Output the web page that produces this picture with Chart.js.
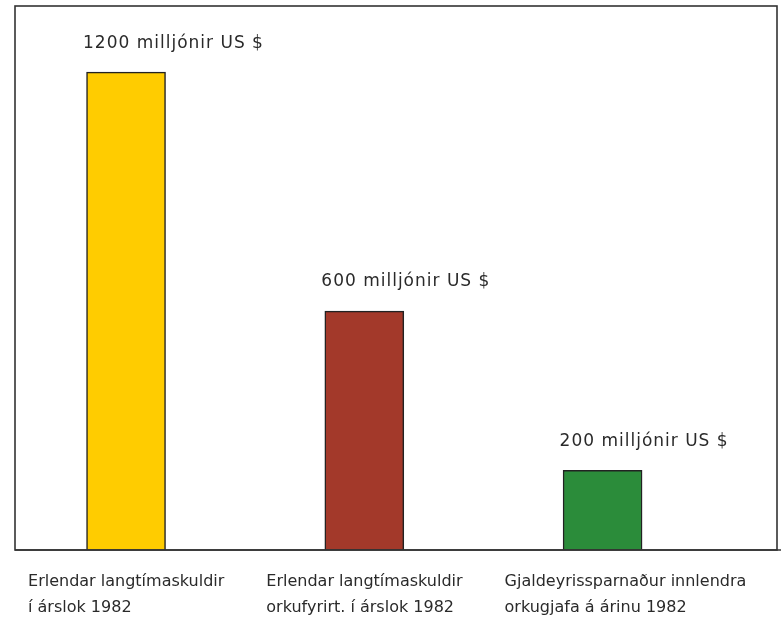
<!DOCTYPE html>
<html>
<head>
<meta charset="utf-8">
<script src="https://cdn.jsdelivr.net/npm/chart.js@4"></script>
<style>
  html, body { margin: 0; padding: 0; background: #fff; }
  #wrap { width: 781px; height: 618px; position: relative; }
</style>
</head>
<body>
<div id="wrap"><canvas id="chart"></canvas></div>
<script>
'use strict';

// Data
const categories = [
    ['Erlendar langtímaskuldir', 'í árslok 1982'],
    ['Erlendar langtímaskuldir', 'orkufyrirt. í árslok 1982'],
    ['Gjaldeyrissparnaður innlendra', 'orkugjafa á árinu 1982']
];
const values = [1200, 600, 200];
const valueLabels = ['1200 milljónir US $', '600 milljónir US $', '200 milljónir US $'];
const barColors = ['#FFCC00', '#A3392A', '#2B8C3A'];

const ink = '#2a2a2a';
const font = '"DejaVu Sans", sans-serif';

// frame around the plot area plus the text labels
const framePlugin = {
    id: 'frame',
    afterDatasetsDraw(chart) {
        const { ctx, chartArea: a } = chart;
        ctx.save();
        ctx.strokeStyle = '#333';
        ctx.lineWidth = 1.6;
        ctx.strokeRect(a.left, a.top, a.right - a.left, a.bottom - a.top);
        ctx.beginPath();
        ctx.moveTo(a.left, a.bottom);
        ctx.lineTo(chart.width, a.bottom);
        ctx.stroke();

        const bars = chart.getDatasetMeta(0).data;
        ctx.fillStyle = ink;
        ctx.textAlign = 'left';
        ctx.textBaseline = 'middle';
        bars.forEach((bar, i) => {
            ctx.font = '17px ' + font;
            ctx.letterSpacing = '1px';
            ctx.fillText(valueLabels[i], bar.x - 43, bar.y - 29);
            ctx.font = '16px ' + font;
            ctx.letterSpacing = '0px';
            categories[i].forEach((line, j) => {
                ctx.fillText(line, bar.x - 98, a.bottom + 32 + j * 26);
            });
        });
        ctx.restore();
    }
};

function createChart() {
    const ctx = document.querySelector('#chart').getContext('2d');
    new Chart(ctx, {
        type: 'bar',
        data: {
            datasets: [{
                data: values.map((v, i) => ({ x: i, y: v })),
                backgroundColor: barColors,
                borderColor: '#222',
                borderWidth: 1.5,
                barThickness: 79
            }]
        },
        options: {
            responsive: true,
            maintainAspectRatio: false,
            animation: false,
            layout: { padding: { left: 15, right: 4, top: 6, bottom: 68 } },
            plugins: { legend: { display: false }, tooltip: { enabled: false } },
            scales: {
                x: { type: 'linear', min: -0.466, max: 2.732, offset: false, display: false },
                y: { min: 0, max: 1366, display: false }
            }
        },
        plugins: [framePlugin]
    });
}

createChart();
</script>
</body>
</html>
